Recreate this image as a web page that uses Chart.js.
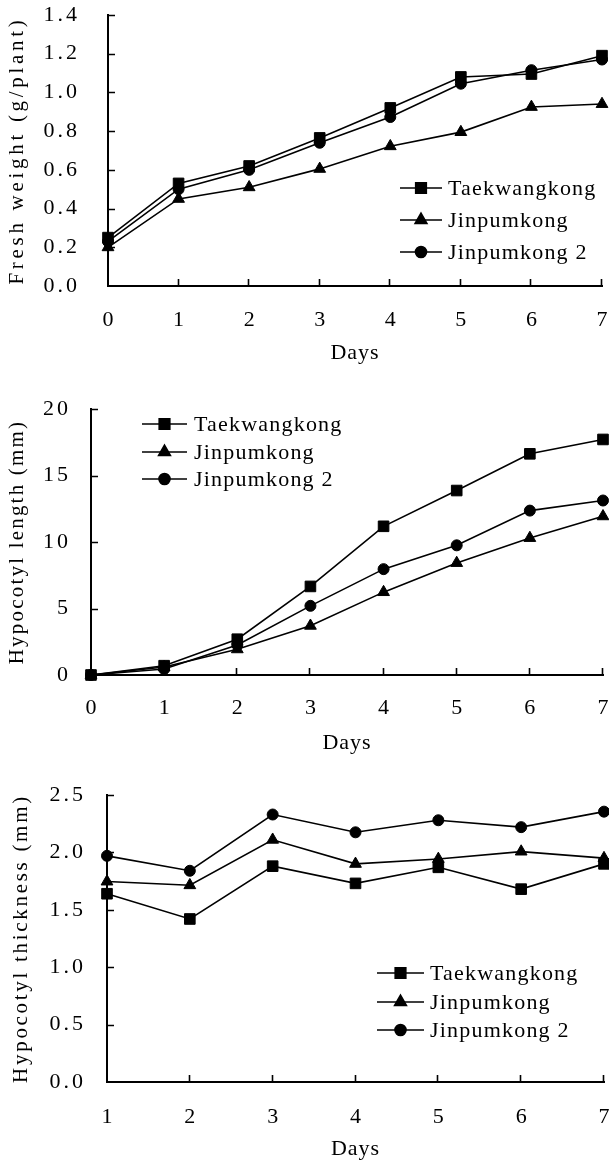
<!DOCTYPE html>
<html><head><meta charset="utf-8">
<script src="https://cdn.jsdelivr.net/npm/chart.js@4.4.1/dist/chart.umd.min.js"></script>
<style>
html,body{margin:0;padding:0;background:#fff;width:609px;height:1162px;overflow:hidden}
canvas{position:absolute;left:0}
</style></head><body>
<canvas id="c1" width="609" height="375" style="top:0px"></canvas>
<canvas id="c2" width="609" height="385" style="top:375px"></canvas>
<canvas id="c3" width="609" height="402" style="top:760px"></canvas>
<script>
// ---- data ----
const seriesNames = ['Taekwangkong', 'Jinpumkong', 'Jinpumkong 2'];

const daysGrowth = [0, 1, 2, 3, 4, 5, 6, 7];
const freshTaek = [0.25, 0.53, 0.62, 0.765, 0.92, 1.08, 1.095, 1.19];
const freshJin  = [0.20, 0.45, 0.51, 0.605, 0.722, 0.795, 0.925, 0.94];
const freshJin2 = [0.23, 0.50, 0.60, 0.74, 0.873, 1.045, 1.115, 1.17];

const lengthTaek = [0, 0.7, 2.69, 6.66, 11.18, 13.87, 16.63, 17.71];
const lengthJin  = [0, 0.6, 1.93, 3.7, 6.23, 8.42, 10.3, 11.93];
const lengthJin2 = [0, 0.45, 2.26, 5.2, 7.96, 9.75, 12.36, 13.12];

const daysThick = [1, 2, 3, 4, 5, 6, 7];
const thickTaek = [1.64, 1.42, 1.88, 1.73, 1.87, 1.68, 1.90];
const thickJin  = [1.746, 1.714, 2.11, 1.90, 1.943, 2.007, 1.95];
const thickJin2 = [1.97, 1.84, 2.33, 2.175, 2.28, 2.22, 2.355];

const yTitles = ['Fresh weight (g/plant)', 'Hypocotyl length (mm)', 'Hypocotyl thickness (mm)'];
const xTitle = 'Days';

// ---- styles ----
const SERIF = '"Liberation Serif", "DejaVu Serif", serif';
const pointStyles = ['rect', 'triangle', 'circle'];
const pointRadii = [7.5, 6.8, 5.5];

const inwardTicks = {
  id: 'inwardTicks',
  beforeDatasetsDraw(chart) {
    const ctx = chart.ctx;
    const xs = chart.scales.x, ys = chart.scales.y;
    const a = chart.chartArea;
    ctx.save();
    ctx.strokeStyle = '#000';
    ctx.lineWidth = 1.6;
    ctx.beginPath();
    ys.ticks.forEach(t => {
      if (t.value === ys.min) return;
      const py = Math.round(ys.getPixelForValue(t.value)) + 0.5;
      ctx.moveTo(a.left, py); ctx.lineTo(a.left + 7, py);
    });
    xs.ticks.forEach(t => {
      if (t.value === xs.min) return;
      const px = Math.round(xs.getPixelForValue(t.value)) - 0.5;
      ctx.moveTo(px, a.bottom); ctx.lineTo(px, a.bottom - 7);
    });
    ctx.stroke();
    ctx.restore();
  }
};

// letter spacing to imitate the wide monospaced lettering of the original
const spacing = {
  id: 'spacing',
  afterLayout(chart, args, opts) {
    ['x', 'y'].forEach(k => {
      const s = chart.scales[k];
      if (!s || s._spPatched) return;
      s._spPatched = true;
      const o = opts[k] || {};
      const wrap = (fn, px) => function (area) {
        const c = this.ctx;
        const prev = c.letterSpacing;
        c.letterSpacing = px + 'px';
        fn.call(this, area);
        c.letterSpacing = prev || '0px';
      };
      s.drawLabels = wrap(Object.getPrototypeOf(s).drawLabels, o.labels || 0);
      s.drawTitle = wrap(Object.getPrototypeOf(s).drawTitle, o.title || 0);
    });
  }
};

const boxLegend = {
  id: 'boxLegend',
  afterDraw(chart, args, opts) {
    const ctx = chart.ctx;
    ctx.save();
    chart.data.datasets.forEach((ds, i) => {
      const y = opts.rows[i];
      ctx.strokeStyle = '#000';
      ctx.lineWidth = 1.6;
      ctx.beginPath();
      ctx.moveTo(opts.x0, y); ctx.lineTo(opts.x1, y);
      ctx.stroke();
      ctx.fillStyle = '#000';
      Chart.helpers.drawPoint(ctx, {pointStyle: ds.pointStyle, radius: ds.pointRadius, rotation: 0, borderWidth: 1}, (opts.x0 + opts.x1) / 2, y);
      ctx.font = '22px ' + SERIF;
      ctx.letterSpacing = '1.2px';
      ctx.textBaseline = 'middle';
      ctx.textAlign = 'left';
      ctx.fillStyle = '#000';
      ctx.fillText(ds.label, opts.tx, y + 1);
      ctx.letterSpacing = '0px';
    });
    ctx.restore();
  }
};

function makeChart(id, days, series, cfg) {
  const datasets = series.map((vals, i) => ({
    label: seriesNames[i],
    data: days.map((d, k) => ({x: d, y: vals[k]})),
    borderColor: '#000',
    backgroundColor: '#000',
    borderWidth: 1.6,
    pointStyle: pointStyles[i],
    pointRadius: pointRadii[i],
    pointBorderWidth: 1,
    pointBackgroundColor: '#000',
    pointBorderColor: '#000',
    tension: 0,
    clip: false
  }));
  return new Chart(document.getElementById(id), {
    type: 'line',
    data: {datasets},
    plugins: [inwardTicks, spacing, boxLegend],
    options: {
      responsive: false,
      animation: false,
      devicePixelRatio: 1,
      layout: {autoPadding: false, padding: {left: 0, top: cfg.top, right: cfg.right, bottom: 0}},
      plugins: {
        legend: {display: false}, tooltip: {enabled: false},
        boxLegend: cfg.legend,
        spacing: {y: {labels: 3, title: cfg.ySpace}, x: {labels: 0, title: 1}}
      },
      scales: {
        x: {
          type: 'linear', min: days[0], max: days[days.length - 1],
          ticks: {stepSize: 1, padding: cfg.xPad, color: '#000', font: {family: SERIF, size: 22}, maxRotation: 0, autoSkip: false},
          grid: {display: false, drawTicks: false},
          border: {display: true, color: '#000', width: 2},
          title: {display: true, text: xTitle, color: '#000', font: {family: SERIF, size: 22}, padding: {top: 0, bottom: cfg.xTitlePad}},
          afterFit: s => { s.height = cfg.xHeight; s.paddingLeft = 0; s.paddingRight = 0; }
        },
        y: {
          type: 'linear', min: 0, max: cfg.yMax,
          ticks: {stepSize: cfg.yStep, padding: cfg.yPad, color: '#000', font: {family: SERIF, size: 22},
                  callback: v => v.toFixed(cfg.dec)},
          grid: {display: false, drawTicks: false},
          border: {display: true, color: '#000', width: 2},
          title: {display: true, text: cfg.yTitle, color: '#000', font: {family: SERIF, size: 21}, padding: {top: cfg.yTitlePad, bottom: 0}},
          afterFit: s => { s.width = cfg.yWidth; s.paddingTop = 0; s.paddingBottom = 0; }
        }
      }
    }
  });
}

makeChart('c1', daysGrowth, [freshTaek, freshJin, freshJin2], {
  top: 15, right: 7, xHeight: 375 - 286, yWidth: 108, xPad: 21, yPad: 28,
  xTitlePad: 9, yTitlePad: 5, ySpace: 3.7, yMax: 1.4, yStep: 0.2, dec: 1, yTitle: yTitles[0],
  legend: {x0: 400, x1: 442, tx: 448, rows: [188, 220, 252]}
});
makeChart('c2', daysGrowth, [lengthTaek, lengthJin, lengthJin2], {
  top: 34, right: 6, xHeight: 385 - 300, yWidth: 91, xPad: 20, yPad: 20,
  xTitlePad: 4, yTitlePad: 5, ySpace: 2.2, yMax: 20, yStep: 5, dec: 0, yTitle: yTitles[1],
  legend: {x0: 142, x1: 187, tx: 194, rows: [49, 77, 104]}
});
makeChart('c3', daysThick, [thickTaek, thickJin, thickJin2], {
  top: 35, right: 5, xHeight: 402 - 322, yWidth: 107, xPad: 22, yPad: 21,
  xTitlePad: 0, yTitlePad: 9, ySpace: 2.7, yMax: 2.5, yStep: 0.5, dec: 1, yTitle: yTitles[2],
  legend: {x0: 377, x1: 424, tx: 430, rows: [213, 242, 270]}
});
</script>
</body></html>
